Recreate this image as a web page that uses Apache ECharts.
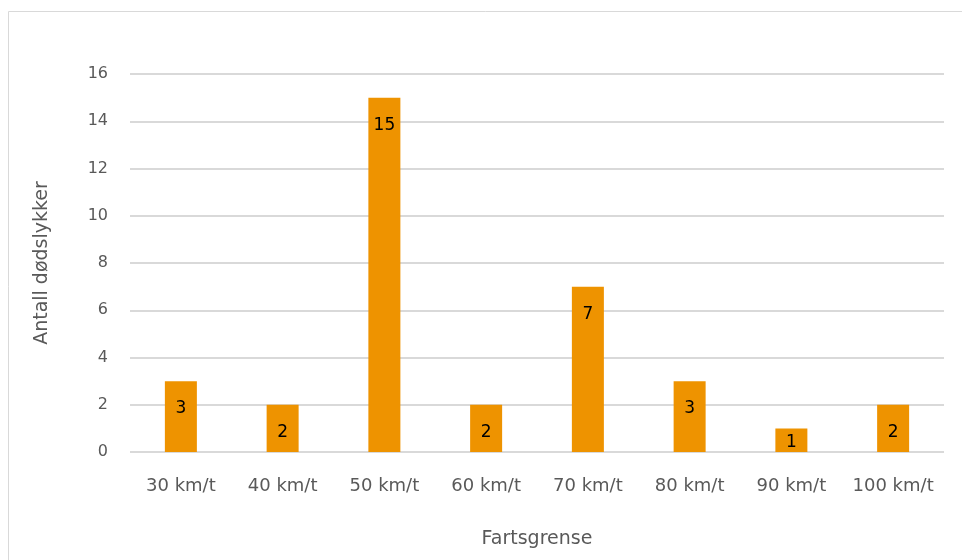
<!DOCTYPE html>
<html><head><meta charset="utf-8">
<script src="https://cdn.jsdelivr.net/npm/echarts@6/dist/echarts.min.js"></script>
<style>html,body{margin:0;padding:0;background:#fff}#c{width:962px;height:560px}</style>
</head><body><div id="c"></div>
<script>
const categories = ['30 km/t','40 km/t','50 km/t','60 km/t','70 km/t','80 km/t','90 km/t','100 km/t'];
const values = [3,2,15,2,7,3,1,2];
const yTicks = {min:0, max:16, interval:2};
const FONT = 'DejaVu Sans';
const chart = echarts.init(document.getElementById('c'));
chart.setOption({
  animation:false,
  textStyle:{fontFamily:FONT},
  graphic:[{type:'rect',shape:{x:8.5,y:11.5,width:980,height:600},style:{fill:'none',stroke:'#d9d9d9',lineWidth:1}}],
  grid:{left:130,right:18,top:74,bottom:108},
  xAxis:{type:'category',data:categories,
    axisLine:{show:false},axisTick:{show:false},
    axisLabel:{color:'#595959',fontSize:18,fontFamily:FONT,margin:25,interval:0,hideOverlap:false},
    name:'Fartsgrense',nameLocation:'middle',nameGap:78,
    nameTextStyle:{color:'#595959',fontSize:19,fontFamily:FONT}},
  yAxis:{type:'value',min:yTicks.min,max:yTicks.max,interval:yTicks.interval,
    axisLine:{show:false},axisTick:{show:false},
    axisLabel:{color:'#595959',fontSize:16,fontFamily:FONT,margin:22},
    splitLine:{lineStyle:{color:'#d9d9d9',width:2}},
    name:'Antall dødslykker',nameLocation:'middle',nameGap:78,nameRotate:90,
    nameTextStyle:{color:'#595959',fontSize:19,fontFamily:FONT}},
  series:[{type:'bar',barWidth:32,
    data:values.map(v=>v<2?{value:v,label:{position:'inside',offset:[0,2]}}:v),
    itemStyle:{color:'#EE9300'},
    label:{show:true,position:'insideTop',distance:19,color:'#000',fontSize:17,fontFamily:FONT}}]
});
</script></body></html>
